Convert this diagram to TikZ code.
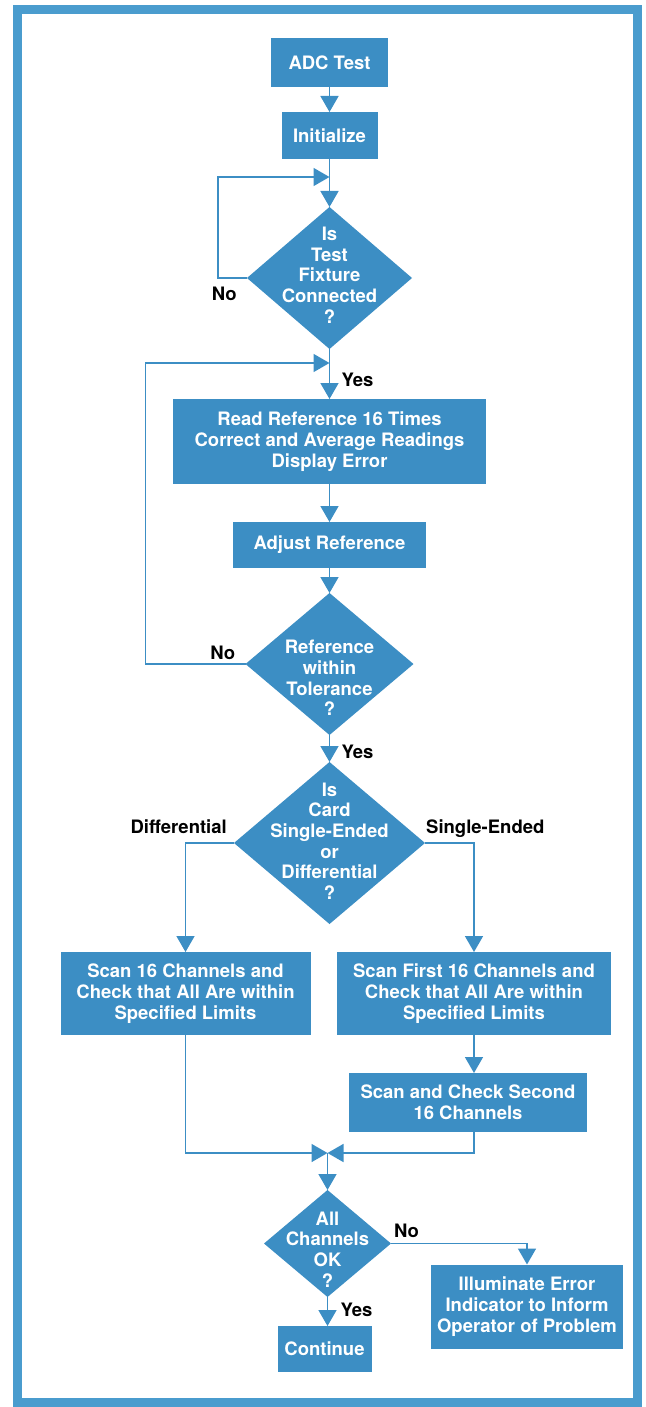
\documentclass[tikz,border=0pt]{standalone}
\usepackage{fontspec}
\setmainfont{TeX Gyre Heros}
\usetikzlibrary{arrows.meta,positioning,shapes.geometric}
\definecolor{hpblue}{RGB}{60,142,196}
\definecolor{framebl}{RGB}{74,156,206}

\begin{document}
\begin{tikzpicture}[
  x=1pt, y=1pt,
  font=\fontsize{18.5pt}{20.7pt}\selectfont\bfseries,
  node distance=25pt,
  block/.style={fill=hpblue, text=white, align=center, inner sep=0pt, outer sep=0pt},
  decision/.style={diamond, fill=hpblue, inner sep=0pt, outer sep=0pt},
  qtext/.style={text=white, align=center, inner sep=0pt},
  lbl/.style={text=black, inner sep=0pt},
  line/.style={hpblue, line width=1.6pt},
  arrow/.style={line, -{Triangle[length=16pt,width=18pt]}}
]
\useasboundingbox (0,0) rectangle (645,-1407);
\draw[framebl, line width=9pt] (17,-9.7) rectangle (637.5,-1402);
% Start and fixture check
\node[block, minimum width=117pt, minimum height=49pt] (adc) at (329.5,-62.5) {ADC Test};
\node[block, minimum width=96pt, minimum height=47pt, below=25pt of adc] (init) {Initialize};
\node[decision, minimum width=165pt, minimum height=142pt, below=48pt of init] (fixture) {};
\node[qtext, yshift=3pt] (fixturetxt) at (fixture) {Is\\Test\\Fixture\\Connected\\?};
\coordinate[below=18pt of init.south] (j1);
\draw[arrow] (adc) -- (init);
\draw[arrow] (init) -- (fixture);
\draw[arrow] (fixture.west) -- ++(-29pt,0) |- (j1);
\node[lbl, below left=9pt and 10pt of fixture.west] (fixno) {No};
% Reference adjustment
\node[block, minimum width=313pt, minimum height=85pt, below=50pt of fixture] (readref) {Read Reference 16 Times\\Correct and Average Readings\\Display Error};
\node[block, minimum width=193pt, minimum height=46pt, below=38pt of readref] (adjust) {Adjust Reference};
\node[decision, minimum width=168pt, minimum height=142pt, below=25pt of adjust] (tol) {};
\node[qtext, yshift=-14pt] (toltxt) at (tol) {Reference\\within\\Tolerance\\?};
\coordinate[below=14pt of fixture.south] (j2);
\draw[arrow] (fixture) -- (readref);
\node[lbl, below right=24pt and 12pt of fixture.south] (fixyes) {Yes};
\draw[arrow] (readref) -- (adjust);
\draw[arrow] (adjust) -- (tol);
\draw[arrow] (tol.west) -- ++(-100pt,0) |- (j2);
\node[lbl, above left=4pt and 10pt of tol.west] (tolno) {No};
% Card type
\node[decision, minimum width=191pt, minimum height=162pt, below=27pt of tol] (card) {};
\node[qtext, yshift=2pt] (cardtxt) at (card) {Is\\Card\\Single-Ended\\or\\Differential\\?};
\draw[arrow] (tol) -- (card);
\node[lbl, below right=10pt and 12pt of tol.south] (tolyes) {Yes};
\node[block, minimum width=250pt, minimum height=83pt, below=28pt of card, xshift=-144pt] (diffbox) {Scan 16 Channels and\\Check that All Are within\\Specified Limits};
\node[block, minimum width=274pt, minimum height=83pt, below=28pt of card, xshift=144.5pt] (sebox) {Scan First 16 Channels and\\Check that All Are within\\Specified Limits};
\node[block, minimum width=238pt, minimum height=59pt, below=38pt of sebox, xshift=-6pt] (second) {Scan and Check Second\\16 Channels};
\draw[arrow] (card.west) -| (diffbox.north);
\draw[arrow] (card.east) -| (sebox.north);
\node[lbl, above left=9pt and 7pt of card.west] (difflbl) {Differential};
\node[lbl, above right=5pt and 1pt of card.east] (selbl) {Single-Ended};
\draw[arrow] (sebox.south) -- (sebox.south |- second.north);
% Channel check
\node[decision, minimum width=127pt, minimum height=107pt, below=266pt of card, xshift=-2pt] (allok) {};
\node[qtext, yshift=-6pt] (alloktxt) at (allok) {All\\Channels\\OK\\?};
\coordinate[above=37pt of allok.north] (jm);
\draw[arrow] (diffbox.south) |- (jm);
\draw[arrow] (second.south -| sebox.south) |- (jm);
\draw[arrow] (jm) -- (allok.north);
\node[block, minimum width=94pt, minimum height=46pt, below=29pt of allok, xshift=-3pt] (cont) {Continue};
\node[block, minimum width=192pt, minimum height=84pt, below right=21pt and 40pt of allok.east] (illum) {Illuminate Error\\Indicator to Inform\\Operator of Problem};
\draw[arrow] (allok.south) -- (allok.south |- cont.north);
\draw[arrow] (allok.east) -| (illum.north);
\node[lbl, above right=6pt and 3pt of allok.east] (okno) {No};
\node[lbl, below right=6pt and 13pt of allok.south] (okyes) {Yes};
\end{tikzpicture}
\end{document}
